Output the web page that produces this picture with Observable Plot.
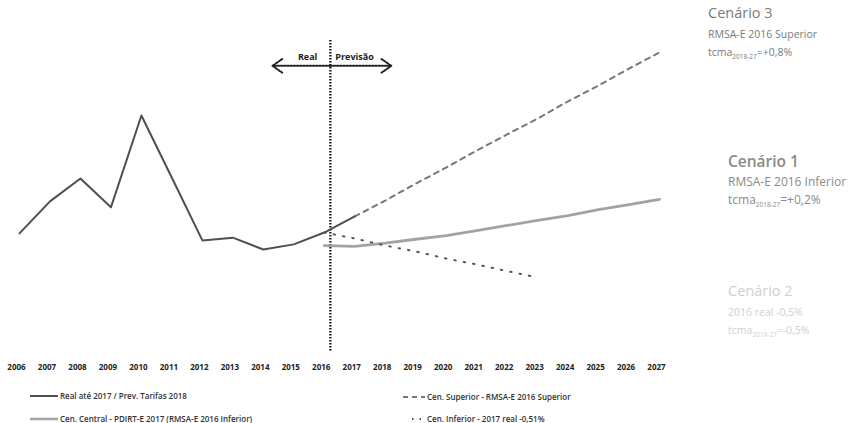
<!DOCTYPE html>
<html>
<head>
<meta charset="utf-8">
<script src="https://cdn.jsdelivr.net/npm/d3@7"></script>
<script src="https://cdn.jsdelivr.net/npm/@observablehq/plot@0.6"></script>
<style>
  html, body { margin: 0; padding: 0; background: #fff; }
  #wrap { position: relative; width: 851px; height: 423px; overflow: hidden; background: #fff; font-family: "Open Sans", "Liberation Sans", sans-serif; }
  #wrap svg.plot { position: absolute; left: 0; top: 0; }
  .ann { position: absolute; white-space: nowrap; line-height: 1; }
  .ann .h { font-size: 14.5px; }
  .ann .t { font-size: 10.5px; margin-top: 8px; }
  .ann.big .h { font-size: 15.5px; }
  .ann.big .t { font-size: 12px; margin-top: 6px; }
  .leg { position: absolute; white-space: nowrap; font-size: 8px; font-weight: 600; color: #333; display: flex; align-items: center; }
  .leg svg { margin-right: 2px; }
</style>
</head>
<body>
<div id="wrap"></div>
<script>
// ---- data (arbitrary consumption-like units) ----
const years = [2006, 2007, 2008, 2009, 2010, 2011, 2012, 2013, 2014, 2015, 2016, 2017, 2018, 2019, 2020, 2021, 2022, 2023, 2024, 2025, 2026, 2027];

const realYears = [2006, 2007, 2008, 2009, 2010, 2011, 2012, 2013, 2014, 2015, 2016, 2017];
const realValues = [49.21, 50.02, 50.60, 49.87, 52.20, 50.62, 49.03, 49.10, 48.80, 48.93, 49.23, 49.64];

const centralYears = [2016, 2017, 2018, 2019, 2020, 2021, 2022, 2023, 2024, 2025, 2026, 2027];
const centralValues = [48.90, 48.88, 48.96, 49.06, 49.15, 49.28, 49.41, 49.54, 49.66, 49.81, 49.94, 50.07];

const superiorYears = [2017, 2018, 2019, 2020, 2021, 2022, 2023, 2024, 2025, 2026, 2027];
const superiorValues = [49.64, 50.04, 50.47, 50.88, 51.31, 51.72, 52.12, 52.56, 52.96, 53.39, 53.80];

const inferiorYears = [2016, 2017, 2018, 2019, 2020, 2021, 2022, 2023];
const inferiorValues = [49.23, 49.08, 48.90, 48.75, 48.57, 48.42, 48.25, 48.09];

const dividerYear = 2016.2;            // boundary Real | Previsão
const arrowEnds = [2014.3, 2018.2];    // extent of the Real/Previsão arrow
const arrowLevel = 53.46;

const seriesNames = [
  "Real até 2017 / Prev. Tarifas 2018",
  "Cen. Superior - RMSA-E 2016 Superior",
  "Cen. Central - PDIRT-E 2017 (RMSA-E 2016 Inferior)",
  "Cen. Inferior - 2017 real -0,51%"
];

const toRows = (xs, vs) => xs.map((x, i) => ({year: x, value: vs[i]}));
const real = toRows(realYears, realValues);
const central = toRows(centralYears, centralValues);
const superior = toRows(superiorYears, superiorValues);
const inferior = toRows(inferiorYears, inferiorValues);

const plot = Plot.plot({
  width: 851,
  height: 380,
  marginLeft: 19,
  marginRight: 192,
  marginTop: 40,
  marginBottom: 28,
  style: {background: "transparent", fontFamily: "'Open Sans', sans-serif"},
  x: {domain: [2006, 2027], axis: null},
  y: {domain: [46.186, 54.103], axis: null},
  marks: [
    Plot.axisX({ticks: years, tickSize: 0, tickPadding: 12, dx: -3, tickFormat: d => String(d), fontSize: 8, fontWeight: "bold", fill: "#222", label: null}),
    Plot.ruleX([dividerYear], {stroke: "#1e1e1e", strokeWidth: 2.4, strokeDasharray: "1.6,1.4"}),
    Plot.arrow([arrowEnds[0], arrowEnds[1]], {x1: () => dividerYear, y1: () => arrowLevel, x2: d => d, y2: () => arrowLevel, stroke: "#222", strokeWidth: 2, strokeDasharray: "1.6,1.6", headLength: 9, headAngle: 70, insetStart: 0, insetEnd: 0}),
    Plot.text(["Real"], {x: () => dividerYear, y: () => arrowLevel, dx: -13, dy: -9, textAnchor: "end", fontSize: 9, fontWeight: "bold", fill: "#222"}),
    Plot.text(["Previsão"], {x: () => dividerYear, y: () => arrowLevel, dx: 5, dy: -9, textAnchor: "start", fontSize: 9, fontWeight: "bold", fill: "#222"}),
    Plot.line(central, {x: "year", y: "value", stroke: "#a3a3a3", strokeWidth: 2.8}),
    Plot.line(superior, {x: "year", y: "value", stroke: "#777", strokeWidth: 2, strokeDasharray: "5,5"}),
    Plot.line(inferior, {x: "year", y: "value", stroke: "#555", strokeWidth: 2, strokeDasharray: "1.5,8"}),
    Plot.line(real, {x: "year", y: "value", stroke: "#4f4f4f", strokeWidth: 2})
  ]
});
plot.classList.add("plot");
const wrap = document.getElementById("wrap");
wrap.appendChild(plot);

// ---- right-side annotations ----
const anns = [
  {left: 708, top: 6, color: "#7a7a7a", head: "Cenário 3", l1: "RMSA-E 2016 Superior", l2: ["tcma", "2018-27", "=+0,8%"], w: 500, cls: ""},
  {left: 728, top: 154, color: "#8a8a8a", head: "Cenário 1", l1: "RMSA-E 2016 Inferior", l2: ["tcma", "2018-27", "=+0,2%"], w: 600, cls: "big"},
  {left: 728, top: 284, color: "#cfcfcf", head: "Cenário 2", l1: "2016 real -0,5%", l2: ["tcma", "2018-27", "=-0,5%"], w: 500, cls: ""}
];
anns.forEach(a => {
  const d = document.createElement("div");
  d.className = "ann " + a.cls;
  d.style.left = a.left + "px";
  d.style.top = a.top + "px";
  d.style.color = a.color;
  d.innerHTML = `<div class="h" style="font-weight:${a.w}">${a.head}</div><div class="t">${a.l1}</div><div class="t">${a.l2[0]}<sub style="font-size:6.5px">${a.l2[1]}</sub>${a.l2[2]}</div>`;
  wrap.appendChild(d);
});

// ---- legend ----
const legendItems = [
  {name: seriesNames[0], left: 30, top: 390, stroke: "#4f4f4f", dash: null, w: 28, sw: 2},
  {name: seriesNames[1], left: 403, top: 391, stroke: "#777", dash: "5,4", w: 22, sw: 2},
  {name: seriesNames[2], left: 30, top: 413, stroke: "#a3a3a3", dash: null, w: 28, sw: 2.5},
  {name: seriesNames[3], left: 412, top: 413, stroke: "#555", dash: "1.5,6", w: 13, sw: 2}
];
legendItems.forEach(it => {
  const d = document.createElement("div");
  d.className = "leg";
  d.style.left = it.left + "px";
  d.style.top = it.top + "px";
  d.innerHTML = `<svg width="${it.w}" height="8"><line x1="0" x2="${it.w}" y1="4" y2="4" stroke="${it.stroke}" stroke-width="${it.sw}" ${it.dash ? `stroke-dasharray="${it.dash}"` : ""}/></svg><span>${it.name}</span>`;
  wrap.appendChild(d);
});
</script>
</body>
</html>
